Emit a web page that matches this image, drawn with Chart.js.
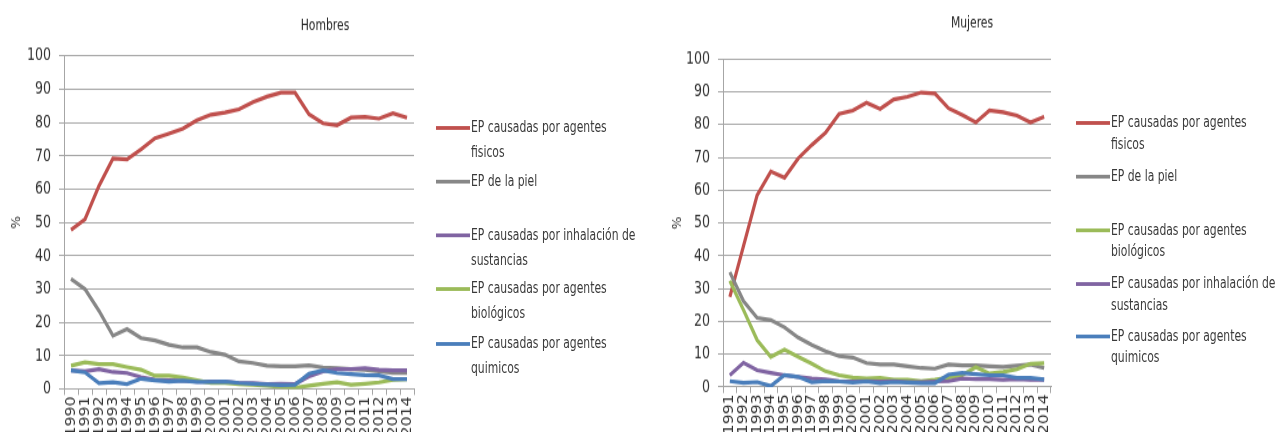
<!DOCTYPE html>
<html>
<head>
<meta charset="utf-8">
<script src="https://cdn.jsdelivr.net/npm/chart.js@4/dist/chart.umd.min.js"></script>
<style>
    body { margin: 0; background: #fff; }
    /* the original picture is stretched tall, so each panel is drawn short and scaled up */
    .panel { position: absolute; top: 0; height: 346px; overflow: hidden; transform-origin: 0 0; }
    .legend { position: absolute; font-family: 'DejaVu Sans Condensed', 'DejaVu Sans', sans-serif; font-size: 12px; color: #3a3a3a; }
    .legend .item { position: absolute; left: 0; white-space: nowrap; }
    .legend .swatch { position: absolute; left: 0; width: 34px; height: 3px; }
    .legend .text { position: absolute; left: 35px; }
</style>
</head>
<body>
<div class="panel" id="panel-h" style="left:0;width:640px;"><canvas id="chartH" width="640" height="346"></canvas><div class="legend" id="legend-h"></div></div>
<div class="panel" id="panel-m" style="left:640px;width:641px;"><canvas id="chartM" width="641" height="346"></canvas><div class="legend" id="legend-m"></div></div>
<script>
// Hombres 1990-2014
const yearsH = ['1990','1991','1992','1993','1994','1995','1996','1997','1998','1999','2000','2001','2002','2003','2004','2005','2006','2007','2008','2009','2010','2011','2012','2013','2014'];
const hFisicos = [47.8, 51, 61, 69.2, 69, 72, 75.3, 76.7, 78.2, 80.7, 82.4, 83, 84, 86.2, 87.8, 89, 89, 82.5, 79.8, 79.2, 81.5, 81.7, 81.2, 82.8, 81.5];
const hPiel = [33.1, 30, 23.5, 16, 18, 15.3, 14.6, 13.3, 12.5, 12.5, 11.1, 10.3, 8.3, 7.8, 7, 6.8, 6.8, 7.1, 6.5, 6.3, 6, 5.8, 5.3, 4.8, 4.8];
const hInhal = [5.6, 5.3, 6, 5.1, 4.8, 3.6, 2.8, 2.6, 2.5, 2.2, 2.2, 2.2, 1.8, 1.8, 1.5, 1.6, 1.5, 3.8, 5.3, 6, 6, 6.3, 5.8, 5.6, 5.6];
const hBio = [7, 8, 7.5, 7.5, 6.6, 5.8, 4, 4, 3.5, 2.6, 1.8, 1.8, 1.5, 1.3, 1, 0.6, 0.4, 1, 1.6, 2, 1.3, 1.6, 2, 2.8, 3];
const hQuim = [5.6, 5, 1.8, 2, 1.5, 3.1, 2.6, 2.2, 2.5, 2.1, 2.1, 2.2, 1.8, 1.6, 1.4, 1.2, 1.3, 4.6, 5.6, 4.8, 4.5, 4.2, 4.1, 3, 3];

// Mujeres 1991-2014
const yearsM = ['1991','1992','1993','1994','1995','1996','1997','1998','1999','2000','2001','2002','2003','2004','2005','2006','2007','2008','2009','2010','2011','2012','2013','2014'];
const mFisicos = [27.5, 43, 58.5, 65.7, 63.8, 69.7, 73.8, 77.5, 83.3, 84.3, 86.7, 84.8, 87.7, 88.5, 89.8, 89.5, 85, 83, 80.7, 84.3, 83.8, 82.8, 80.7, 82.4];
const mPiel = [35, 26.2, 21.1, 20.4, 18.2, 15.1, 12.8, 10.9, 9.4, 9, 7.3, 6.9, 6.9, 6.3, 5.8, 5.6, 6.9, 6.6, 6.6, 6.3, 6.1, 6.5, 6.9, 5.8];
const mBio = [32.4, 23.5, 14.3, 9.2, 11.4, 9.2, 7.1, 4.8, 3.6, 2.9, 2.6, 2.8, 2.2, 2.2, 1.8, 2.2, 2.9, 3.6, 6.1, 4.1, 4.6, 5.4, 7.1, 7.3];
const mInhal = [3.6, 7.4, 5.1, 4.3, 3.6, 3.1, 2.6, 2.3, 1.8, 1.7, 1.8, 1.7, 1.8, 1.5, 1.5, 1.7, 1.8, 2.6, 2.4, 2.4, 2.2, 2.4, 2.2, 2.2];
const mQuim = [1.8, 1.3, 1.5, 0.3, 3.6, 3.1, 1.5, 1.8, 1.7, 1.4, 1.7, 1.2, 1.5, 1.4, 1.2, 1.2, 3.8, 4.3, 3.9, 3.6, 3.6, 2.8, 2.8, 2.3];

const yTicks = [0, 10, 20, 30, 40, 50, 60, 70, 80, 90, 100];

const LBL_FISICOS = ['EP causadas por agentes', 'fisicos'];
const LBL_PIEL = ['EP de la piel', ''];
const LBL_INHAL = ['EP causadas por inhalación de', 'sustancias'];
const LBL_BIO = ['EP causadas por agentes', 'biológicos'];
const LBL_QUIM = ['EP causadas por agentes', 'quimicos'];

const COLORS = {
    fisicos: '#C0504D',
    piel: '#878787',
    inhal: '#8064A2',
    bio: '#9BBB59',
    quim: '#4A7EBB'
};

const FONT = "'DejaVu Sans Condensed', 'DejaVu Sans', sans-serif";
const PANEL_H = 346;
const S = 432 / PANEL_H;   // vertical stretch
const v = (px) => px / S;  // picture y -> panel y

document.querySelectorAll('.panel').forEach(p => { p.style.transform = `scaleY(${S})`; });

// draws the chart title at a fixed spot
const titlePlugin = {
    id: 'fixedTitle',
    afterDraw(chart, args, opts) {
        const ctx = chart.ctx;
        ctx.save();
        ctx.font = `12px ${FONT}`;
        ctx.fillStyle = '#262626';
        ctx.textAlign = 'center';
        ctx.textBaseline = 'middle';
        ctx.fillText(opts.text, opts.x, opts.y);
        ctx.restore();
    }
};

function makeDatasets(series) {
    return series.map((s, i) => ({
        label: s.label.join(' '),
        data: s.data,
        borderColor: s.color,
        backgroundColor: s.color,
        borderWidth: 3.2,
        pointRadius: 0,
        tension: 0,
        order: -i
    }));
}

function makeChart(canvasId, labels, series, box) {
    const ctx = document.getElementById(canvasId).getContext('2d');
    return new Chart(ctx, {
        type: 'line',
        data: { labels: labels, datasets: makeDatasets(series) },
        options: {
            responsive: false,
            animation: false,
            layout: { padding: { top: v(box.top), right: box.right, left: 0, bottom: 0 } },
            plugins: {
                legend: { display: false },
                tooltip: { enabled: false },
                fixedTitle: { text: box.title, x: box.titleX, y: v(box.titleY) }
            },
            scales: {
                x: {
                    offset: true,
                    grid: { drawOnChartArea: false, drawTicks: true, tickLength: v(6), color: '#a6a6a6', offset: true },
                    border: { color: '#a6a6a6' },
                    ticks: {
                        autoSkip: false, minRotation: 90, maxRotation: 90, padding: 1,
                        color: '#333333', font: { family: FONT, size: 14 }
                    },
                    afterFit: (scale) => { scale.height = PANEL_H - v(box.bottom); }
                },
                y: {
                    min: 0, max: 100,
                    afterBuildTicks: (scale) => { scale.ticks = yTicks.map(t => ({ value: t })); },
                    grid: { color: '#a6a6a6', tickLength: 5 },
                    border: { color: '#a6a6a6' },
                    ticks: { padding: 8, color: '#333333', font: { family: FONT, size: 14 } },
                    title: {
                        display: true, text: '%', color: '#333333',
                        font: { family: FONT, size: 12 },
                        padding: { top: box.pctPad, bottom: 0 }
                    },
                    afterFit: (scale) => { scale.width = box.yWidth; }
                }
            }
        },
        plugins: [titlePlugin]
    });
}

function renderLegend(elId, series, pos) {
    const el = document.getElementById(elId);
    el.style.left = pos.left + 'px';
    el.style.top = '0px';
    const lh = Math.round(v(pos.lineHeight));
    series.forEach((s, i) => {
        const center = v(pos.first + i * pos.step);
        const item = document.createElement('div');
        item.className = 'item';
        item.style.top = Math.round(center - lh / 2) + 'px';
        item.innerHTML = `
            <span class="swatch" style="background:${s.color};top:${Math.round(lh / 2 - 1.5)}px"></span>
            <div class="text" style="line-height:${lh}px">${s.label[0]}<br>${s.label[1]}</div>
        `;
        el.appendChild(item);
    });
}

const seriesH = [
    { label: LBL_FISICOS, data: hFisicos, color: COLORS.fisicos },
    { label: LBL_PIEL, data: hPiel, color: COLORS.piel },
    { label: LBL_INHAL, data: hInhal, color: COLORS.inhal },
    { label: LBL_BIO, data: hBio, color: COLORS.bio },
    { label: LBL_QUIM, data: hQuim, color: COLORS.quim }
];

const seriesM = [
    { label: LBL_FISICOS, data: mFisicos, color: COLORS.fisicos },
    { label: LBL_PIEL, data: mPiel, color: COLORS.piel },
    { label: LBL_BIO, data: mBio, color: COLORS.bio },
    { label: LBL_INHAL, data: mInhal, color: COLORS.inhal },
    { label: LBL_QUIM, data: mQuim, color: COLORS.quim }
];

makeChart('chartH', yearsH, seriesH, {
    top: 56, bottom: 389, right: 226, yWidth: 64, pctPad: 10,
    title: 'Hombres', titleX: 325, titleY: 26
});
makeChart('chartM', yearsM, seriesM, {
    top: 59, bottom: 387, right: 230, yWidth: 83, pctPad: 31,
    title: 'Mujeres', titleX: 332, titleY: 23
});

renderLegend('legend-h', seriesH, { left: 436, first: 127, step: 54, lineHeight: 25 });
renderLegend('legend-m', seriesM, { left: 436, first: 123, step: 53.5, lineHeight: 21 });
</script>
</body>
</html>
